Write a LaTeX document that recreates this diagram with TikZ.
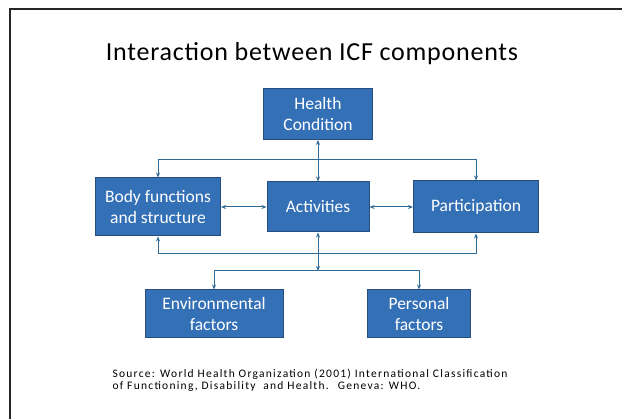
\documentclass[tikz,border=0pt]{standalone}
\usepackage{fontspec}
\setmainfont{Carlito}
\newfontfamily\titlefont[LetterSpace=3]{Carlito}
\newfontfamily\sourcefont[LetterSpace=11]{Carlito}
\usepackage{tikz}
\usetikzlibrary{arrows.meta, positioning}

\definecolor{boxblue}{RGB}{52,112,182}
\definecolor{boxedge}{RGB}{38,78,128}
\definecolor{linkblue}{RGB}{48,106,150}

\begin{document}
\begin{tikzpicture}[
  x=1pt, y=-1pt,
  box/.style={draw=boxedge, fill=boxblue, line width=1pt, text=white, align=center,
    font=\fontsize{17.5}{21}\selectfont, inner sep=0pt},
  arr/.style={-{Stealth[length=5pt, width=4pt]}, linkblue, line width=1pt},
  both/.style={{Stealth[length=5pt, width=4pt]}-{Stealth[length=5pt, width=4pt]}, linkblue, line width=1pt}
]
\useasboundingbox (0,0) rectangle (622,419);
\draw[line width=1.3pt, black!85] (10,419) -- (10,9) -- (622,9);

\node[font=\titlefont\fontsize{26}{30}\selectfont] (title) at (312,54) {Interaction between ICF components};

\node[box, minimum width=109pt, minimum height=51pt] (health) at (318,114) {Health\\Condition};
\node[box, minimum width=125pt, minimum height=58pt] (body) at (158,207) {Body functions\\and structure};
\node[box, minimum width=102pt, minimum height=50pt] (act) at (318,207) {Activities};
\node[box, minimum width=125pt, minimum height=52pt] (part) at (476,207) {Participation};
\node[box, minimum width=138pt, minimum height=48pt] (env) at (214,314) {Environmental\\factors};
\node[box, minimum width=103pt, minimum height=48pt] (pers) at (419,314) {Personal\\factors};
\coordinate (split) at (318,271);

\draw[both] (health.south) -- (act.north);
\draw[both] (body.north) -- ++(0,-18) -| (part.north);
\draw[both] (body.south) -- ++(0,17) -| (part.south);
\draw[both] (body.east) -- (act.west);
\draw[both] (act.east) -- (part.west);
\draw[both] (act.south) -- (split);
\draw[arr] (split) -| (env.north);
\draw[arr] (split) -| (pers.north);

\node[anchor=north west, align=left, font=\sourcefont\fontsize{11.5}{12}\selectfont] (source) at (109,366)
  {Source: World Health Organization (2001) International Classification\\
   of Functioning, Disability\ \ and Health. \ Geneva: WHO.};
\end{tikzpicture}
\end{document}
